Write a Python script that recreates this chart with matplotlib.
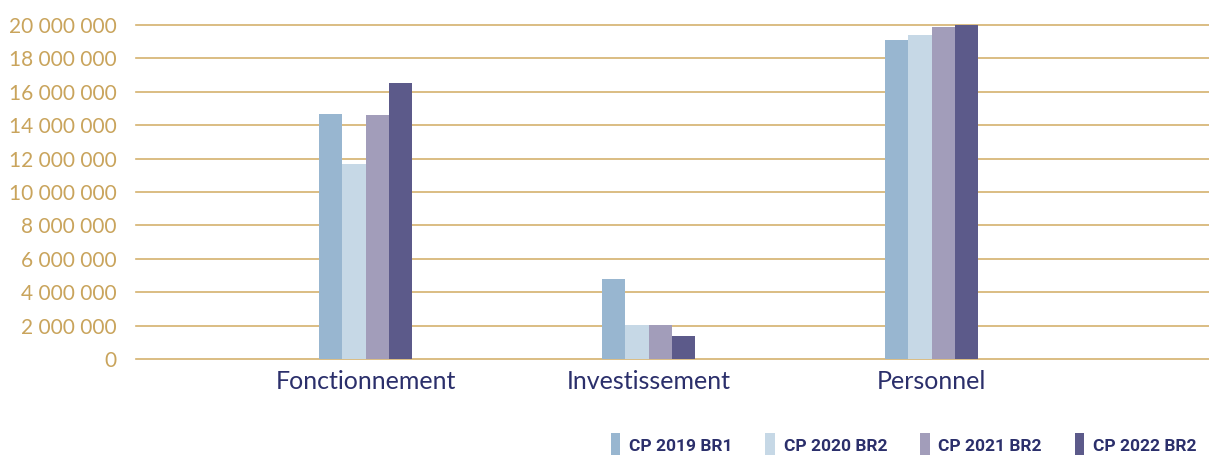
import matplotlib.pyplot as plt
import matplotlib.ticker as mticker
import numpy as np

# Données
categories = ['Fonctionnement', 'Investissement', 'Personnel']
series = ['CP 2019 BR1', 'CP 2020 BR2', 'CP 2021 BR2', 'CP 2022 BR2']
cp_2019_br1 = [14.67e6, 4.79e6, 19.10e6]
cp_2020_br2 = [11.68e6, 2.04e6, 19.40e6]
cp_2021_br2 = [14.61e6, 2.05e6, 19.88e6]
cp_2022_br2 = [16.53e6, 1.38e6, 20.00e6]

colors = ['#98B6D0', '#C6D8E6', '#A29DBA', '#5C5A8A']
gold = '#C9A45C'
navy = '#2B2F6B'

plt.rcParams['font.family'] = ['Lato', 'DejaVu Sans']

fig = plt.figure(figsize=(12.09, 4.55), dpi=100)
ax = fig.add_axes([136 / 1209, 96 / 455, 1 - 136 / 1209, 334 / 455])

x = np.arange(len(categories))
w = 0.082
values = [cp_2019_br1, cp_2020_br2, cp_2021_br2, cp_2022_br2]
for i, (vals, name) in enumerate(zip(values, series)):
    ax.bar(x + (i - 1.5) * w, vals, width=w, color=colors[i], label=name, zorder=3)

ax.set_xlim(-0.811, 2.98)
ax.set_ylim(0, 20e6)
ax.set_yticks(np.arange(0, 20e6 + 1, 2e6))
ax.yaxis.set_major_formatter(mticker.FuncFormatter(lambda v, p: f'{int(v):,}'.replace(',', ' ')))
ax.grid(axis='y', color='#D4B26E', linewidth=1.2, zorder=0)
for gl in ax.get_ygridlines():
    gl.set_clip_on(False)
for s in ax.spines.values():
    s.set_visible(False)
ax.tick_params(axis='y', length=0, pad=14, labelsize=15, labelcolor=gold)
ax.set_xticks(x)
ax.set_xticklabels(categories, fontsize=18, color=navy)
ax.tick_params(axis='x', length=0, pad=8)

leg = ax.legend(loc='lower right', bbox_to_anchor=(1.003, -0.34), ncol=4, frameon=False,
                handlelength=0.55, handleheight=1.7, handletextpad=0.5, columnspacing=1.9,
                prop={'family': ['Roboto', 'DejaVu Sans'], 'weight': 'bold', 'size': 12.5})
for t in leg.get_texts():
    t.set_color(navy)

fig.savefig('out.png', dpi=100)
